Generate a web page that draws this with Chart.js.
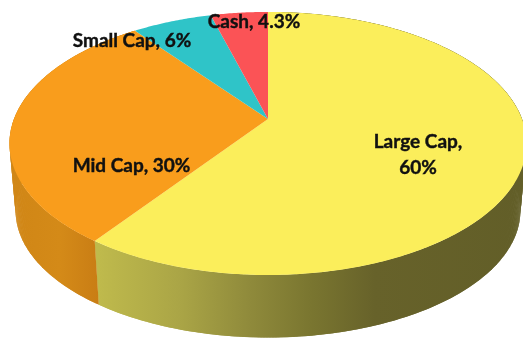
<!DOCTYPE html>
<html>
<head>
<meta charset="utf-8">
<script src="https://cdn.jsdelivr.net/npm/chart.js@4"></script>
<style>
  html, body { margin: 0; padding: 0; background: #fff; }
  canvas { display: block; }
</style>
</head>
<body>
<canvas id="capChart" width="523" height="338"></canvas>
<script>
const categories = ["Large Cap", "Mid Cap", "Small Cap", "Cash"];
const allocation = [60, 30, 6, 4.3];
const topColors = ["#fbee5b", "#f99d1c", "#2fc4c8", "#fb5356"];

// tilted disc: perspective of the top face and the smaller rim underneath
const disc = { cx: 268, cy: 119, rx: 254, ry: 127, k: 0.186 };
const rim = { cx: 268, cy: 187, rx: 248, ry: 122.5, k: 0.186 };

// where each label sits, lines are split on the comma for the big slice
const labelSpots = [
  { x: 418, y: 142, lines: 2 },
  { x: 131.5, y: 166, lines: 1 },
  { x: 132, y: 41, lines: 1 },
  { x: 254, y: 22, lines: 1 }
];

function project(face, angle) {
  // chart.js angles start at +x, ours at 12 o'clock
  const t = angle + Math.PI / 2;
  const w = 1 + face.k * Math.cos(t);
  return {
    x: face.cx + face.rx * Math.sin(t) / w,
    y: face.cy - face.ry * Math.cos(t) / w
  };
}

function traceArc(ctx, face, from, to) {
  const steps = Math.max(2, Math.ceil(Math.abs(to - from) / 0.01));
  for (let i = 0; i <= steps; i++) {
    const p = project(face, from + (to - from) * i / steps);
    ctx.lineTo(p.x, p.y);
  }
}

function wallGradient(ctx, stops) {
  const g = ctx.createLinearGradient(0, 0, 523, 0);
  stops.forEach(s => g.addColorStop(s[0] / 523, s[1]));
  return g;
}

// the wall is a ruled surface, so fill it strip by strip; each strip overlaps the next
function drawWall(ctx, from, to, fill) {
  const step = 0.01;
  const count = Math.ceil((to - from) / step);
  ctx.fillStyle = fill;
  for (let i = 0; i < count; i++) {
    const a = from + i * step;
    const b = Math.min(a + step * 2, to);
    const p = [project(disc, a), project(disc, b), project(rim, b), project(rim, a)];
    ctx.beginPath();
    p.forEach(q => ctx.lineTo(q.x, q.y));
    ctx.closePath();
    ctx.fill();
  }
}

const pie3d = {
  id: "pie3d",
  beforeDatasetsDraw(chart) {
    const ctx = chart.ctx;
    const arcs = chart.getDatasetMeta(0).data;

    const wallFills = [
      wallGradient(ctx, [[98, "#bfba4c"], [180, "#aaa546"], [250, "#8f8a3b"], [310, "#7a7630"], [375, "#67622a"], [523, "#625e28"]]),
      wallGradient(ctx, [[12, "#d08616"], [60, "#d48a18"], [102, "#c87c14"]])
    ];

    // side walls first, the top face covers whatever faces away
    [0, 1].forEach(i => drawWall(ctx, arcs[i].startAngle, arcs[i].endAngle, wallFills[i]));

    arcs.forEach((arc, i) => {
      ctx.beginPath();
      ctx.moveTo(disc.cx, disc.cy);
      traceArc(ctx, disc, arc.startAngle, arc.endAngle);
      ctx.closePath();
      ctx.fillStyle = topColors[i];
      ctx.fill();
    });

    ctx.font = "bold 19px Lato";
    ctx.fillStyle = "#111";
    ctx.strokeStyle = "#111";
    ctx.lineWidth = 0.4;
    ctx.textAlign = "center";
    ctx.textBaseline = "middle";
    const put = (text, x, y) => {
      ctx.fillText(text, x, y);
      ctx.strokeText(text, x, y);
    };
    categories.forEach((name, i) => {
      const spot = labelSpots[i];
      if (spot.lines === 2) {
        put(name + ",", spot.x, spot.y);
        put(allocation[i] + "%", spot.x, spot.y + 26);
      } else {
        put(name + ", " + allocation[i] + "%", spot.x, spot.y);
      }
    });
    return false;
  }
};

new Chart(document.getElementById("capChart"), {
  type: "pie",
  data: {
    labels: categories,
    datasets: [{ data: allocation, backgroundColor: topColors, borderWidth: 0 }]
  },
  options: {
    responsive: false,
    animation: false,
    plugins: { legend: { display: false }, tooltip: { enabled: false } }
  },
  plugins: [pie3d]
});
</script>
</body>
</html>
